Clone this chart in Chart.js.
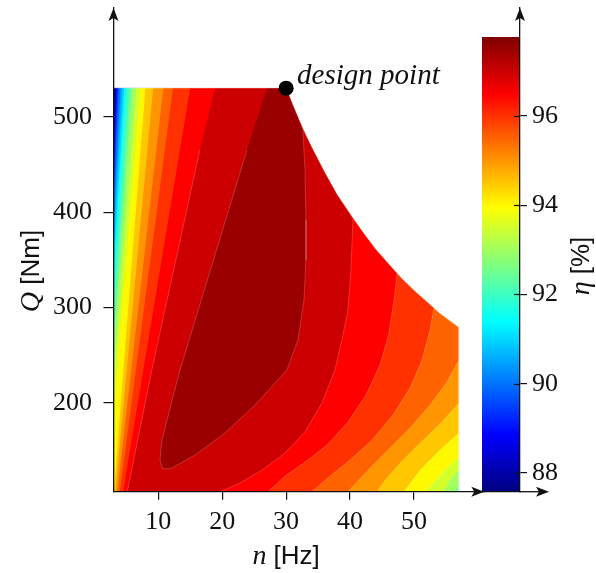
<!DOCTYPE html>
<html>
<head>
<meta charset="utf-8">
<script src="https://cdn.jsdelivr.net/npm/chart.js@4.4.1/dist/chart.umd.min.js"></script>
<style>
html,body{margin:0;padding:0;background:#fff;}
#wrap{position:relative;width:596px;height:573px;}
#wrap canvas{position:absolute;left:0;top:0;}
</style>
</head>
<body>
<div id="wrap">
<canvas id="main" width="596" height="573"></canvas>
<canvas id="cbar" width="596" height="573"></canvas>
</div>
<script>
// ---------------- data ----------------
const nTicks = [10, 20, 30, 40, 50];
const qTicks = [200, 300, 400, 500];
const etaTicks = [88, 90, 92, 94, 96];
const nRange = [3, 57];
const qRange = [107, 530];
const etaRange = [87.58, 97.76];
// constant-power limit (upper right boundary of the map)
const limitN = [30, 31, 32, 33, 34, 36, 38, 40, 42, 44, 46, 48, 50, 52, 54, 56, 57];
const limitQ = [530, 513, 497, 482, 468, 442, 418, 398, 379, 361, 346, 331, 318, 306, 294, 284, 279];
const designPoint = [30, 530];
// contour levels (%)
const levels = [88, 88.5, 89, 89.5, 90, 90.5, 91, 91.5, 92, 92.5, 93, 93.5, 94, 94.5, 95, 95.5, 96, 96.5, 97];
// low-speed side of each contour: [n, Q] from where it leaves the map edge up to the top edge
const leftContours = [
  [[3, 506], [3.15, 530]],
  [[3, 483], [3.3, 530]],
  [[3, 459], [3.45, 530]],
  [[3, 435], [3.6, 530]],
  [[3, 410], [3.8, 530]],
  [[3, 386], [4.1, 530]],
  [[3, 361], [4.4, 530]],
  [[3, 336], [4.7, 530]],
  [[3, 311], [5.0, 530]],
  [[3, 283], [5.5, 530]],
  [[3, 255], [5.9, 530]],
  [[3, 225], [6.6, 530]],
  [[3, 191], [7.2, 530]],
  [[3.05, 107], [8.0, 530]],
  [[3.3, 107], [9.2, 530]],
  [[3.6, 107], [10.8, 530]],
  [[4.0, 107], [12.3, 530]],
  [[4.5, 107], [15.0, 530]],
  [[5.16, 107], [9.0, 234.5], [16.5, 465], [18.9, 530]]
];
// high-speed side of contours: [n, Q] from the upper/right boundary down to the bottom edge
const rightLevels = [93, 93.5, 94, 94.5, 95, 95.5, 96, 96.5, 97];
const rightContours = [
  [[57, 113.9], [56.25, 107]],
  [[57, 129.6], [55.63, 119.1], [54.69, 107]],
  [[57, 143.2], [54.85, 129.6], [52.82, 114.9], [51.88, 107]],
  [[57, 168.4], [54.07, 150.6], [50.94, 129.6], [48.44, 107]],
  [[57, 199.9], [54.38, 180.0], [50.94, 157.9], [47.81, 136.9], [45.46, 119.1], [44.21, 107]],
  [[57, 244.9], [55.16, 221.9], [52.5, 197.8], [49.38, 173.7], [45.93, 150.6], [42.8, 129.6], [39.67, 107]],
  [[53.13, 299.3], [52.5, 276.4], [51.26, 244.9], [49.38, 215.6], [46.71, 187.3], [43.43, 161.0], [39.98, 140.1], [36.86, 123.3], [34.04, 107]],
  [[47.34, 336], [46.87, 307.9], [46.09, 273.2], [44.68, 239.7], [42.49, 208.3], [39.67, 180.0], [36.39, 155.8], [32.95, 138.0], [29.81, 123.3], [27.16, 107]],
  [[40.46, 393], [40.14, 339.3], [39.67, 297.4], [38.89, 271.1], [37.63, 234.4], [35.61, 199.9], [32.95, 169.5], [29.81, 147.5], [26.22, 129.6], [22.78, 116.0], [19.65, 107]]
];
// closed top-efficiency island (97.5 %)
const islandLevel = 97.5;
const islandTopLeft = [27.0, 530];
const islandContour = [
  [32.6, 487], [32.95, 444], [33.1, 392], [33.1, 350], [32.8, 308], [31.85, 266], [30.13, 234.5],
  [25.13, 197.8], [20.43, 168.4], [15.74, 145.4], [12.14, 131.8], [10.74, 130.7], [10.27, 140.1],
  [10.58, 161.1], [11.37, 182.0], [13.4, 234.5], [23.87, 465.1]
];

// ---------------- colour map (pgfplots jet) ----------------
const jetStops = [[0, 0, 0, 128], [0.125, 0, 0, 255], [0.375, 0, 255, 255], [0.625, 255, 255, 0], [0.875, 255, 0, 0], [1, 128, 0, 0]];
function jet(v) {
  v = Math.max(0, Math.min(1, v));
  for (let i = 1; i < jetStops.length; i++) {
    if (v <= jetStops[i][0]) {
      const a = jetStops[i - 1], b = jetStops[i];
      const t = (v - a[0]) / (b[0] - a[0]);
      const c = [1, 2, 3].map(k => Math.round(a[k] + (b[k] - a[k]) * t));
      return 'rgb(' + c.join(',') + ')';
    }
  }
  return 'rgb(128,0,0)';
}
const levelColor = L => jet((L - etaRange[0]) / (etaRange[1] - etaRange[0]));

// ---------------- polygons built from the contour arrays ----------------
function domainPolygon() {
  const pts = [[nRange[0], qRange[1]]];
  limitN.forEach((n, k) => pts.push([n, limitQ[k]]));
  pts.push([nRange[1], qRange[0]]);
  pts.push([nRange[0], qRange[0]]);
  return pts;
}
function regionPolygon(i) {
  const left = leftContours[i];
  const ri = rightLevels.indexOf(levels[i]);
  const right = ri >= 0 ? rightContours[ri] : null;
  const top = left[left.length - 1];
  const pts = [top];
  const onEdge = !right || right[0][0] >= nRange[1] - 0.01;
  limitN.forEach((n, k) => {
    if (onEdge || n < right[0][0] - 0.05) pts.push([n, limitQ[k]]);
  });
  if (right) right.forEach(p => pts.push(p));
  else pts.push([nRange[1], qRange[0]]);
  if (left[0][0] <= nRange[0] + 0.01) pts.push([nRange[0], qRange[0]]);
  for (let k = 0; k < left.length - 1; k++) pts.push(left[k]);
  return pts;
}
function islandPolygon() {
  const pts = [islandTopLeft];
  limitN.forEach((n, k) => { if (n < islandContour[0][0] - 0.05) pts.push([n, limitQ[k]]); });
  islandContour.forEach(p => pts.push(p));
  return pts;
}
function polyDataset(pts, color, order, seam) {
  return {
    data: pts.map(p => ({x: p[0], y: p[1]})),
    showLine: true, fill: 'shape', tension: 0,
    backgroundColor: color,
    borderColor: seam ? 'rgba(255,255,255,0.28)' : color,
    borderWidth: seam ? 0.7 : 0.5,
    pointRadius: 0, pointHoverRadius: 0, order: order
  };
}

const datasets = [];
datasets.push(polyDataset(domainPolygon(), levelColor(etaRange[0]), 300, false));
levels.forEach((L, i) => datasets.push(polyDataset(regionPolygon(i), levelColor(L), 200 - i, true)));
datasets.push(polyDataset(islandPolygon(), levelColor(islandLevel), 100, true));
datasets.push({
  data: [{x: designPoint[0], y: designPoint[1]}], showLine: false,
  pointRadius: 7.5, pointHoverRadius: 7.5, backgroundColor: '#000', borderWidth: 0, order: 0
});

// ---------------- helpers ----------------
const SERIF = '"Liberation Serif", "Times New Roman", serif';
const SANS = '"Liberation Sans", Arial, sans-serif';
const INK = '#111';
function arrowHead(ctx, x, y, dir) {
  ctx.save();
  ctx.translate(x, y);
  if (dir === 'right') ctx.rotate(Math.PI / 2);
  ctx.beginPath();
  ctx.moveTo(0, 0);
  ctx.lineTo(-5, 13);
  ctx.lineTo(0, 10);
  ctx.lineTo(5, 13);
  ctx.closePath();
  ctx.fillStyle = INK;
  ctx.fill();
  ctx.restore();
}
function drawParts(ctx, parts, x, y) {
  let w = 0;
  parts.forEach(p => { ctx.font = p.f; p.w = ctx.measureText(p.t).width; w += p.w; });
  let cx = x - w / 2;
  ctx.textAlign = 'left';
  ctx.textBaseline = 'alphabetic';
  parts.forEach(p => { ctx.font = p.f; ctx.fillText(p.t, cx, y); cx += p.w; });
}

const mainDeco = {
  id: 'mainDeco',
  afterDraw(chart) {
    const {ctx, chartArea: a, scales: {x, y}} = chart;
    ctx.save();
    ctx.fillStyle = INK;
    arrowHead(ctx, a.left, a.top, 'up');
    arrowHead(ctx, a.right, a.bottom, 'right');
    // x title
    drawParts(ctx, [{t: 'n', f: 'italic 28px ' + SERIF}, {t: ' [Hz]', f: '26px ' + SANS}], x.getPixelForValue(30), 564);
    // y title
    ctx.save();
    ctx.translate(39, 271);
    ctx.rotate(-Math.PI / 2);
    drawParts(ctx, [{t: 'Q', f: 'italic 28px ' + SERIF}, {t: ' [Nm]', f: '26px ' + SANS}], 0, 0);
    ctx.restore();
    // design point label
    ctx.font = 'italic 29px ' + SERIF;
    ctx.textAlign = 'left';
    ctx.textBaseline = 'alphabetic';
    ctx.fillText('design point', x.getPixelForValue(designPoint[0]) + 11, y.getPixelForValue(designPoint[1]) - 4);
    ctx.restore();
  }
};

const tickFont = {family: SERIF, size: 26};

new Chart(document.getElementById('main'), {
  type: 'scatter',
  data: {datasets: datasets},
  options: {
    responsive: false, animation: false, devicePixelRatio: 1,
    layout: {padding: {left: 0, right: 111.7, top: 8, bottom: 0}},
    plugins: {legend: {display: false}, tooltip: {enabled: false}},
    events: [],
    scales: {
      x: {
        type: 'linear', min: nRange[0], max: 61,
        afterBuildTicks: s => { s.ticks = nTicks.map(v => ({value: v})); },
        afterFit: s => { s.height = 81.3; s.paddingLeft = 0; s.paddingRight = 0; },
        grid: {drawOnChartArea: false, drawTicks: true, tickLength: 8, color: INK, lineWidth: 1.2, z: 1},
        border: {display: true, color: INK, width: 1.3, z: 1},
        ticks: {font: tickFont, color: INK, padding: 7, maxRotation: 0, autoSkip: false}
      },
      y: {
        type: 'linear', min: qRange[0], max: 614,
        afterBuildTicks: s => { s.ticks = qTicks.map(v => ({value: v})); },
        afterFit: s => { s.width = 113.5; s.paddingTop = 0; s.paddingBottom = 0; },
        grid: {drawOnChartArea: false, drawTicks: true, tickLength: 10, color: INK, lineWidth: 1.2, z: 1},
        border: {display: true, color: INK, width: 1.3, z: 1},
        ticks: {font: tickFont, color: INK, padding: 11.5, autoSkip: false}
      }
    }
  },
  plugins: [mainDeco]
});

// ---------------- colour bar ----------------
const cbarDeco = {
  id: 'cbarDeco',
  afterDraw(chart) {
    const {ctx, chartArea: a, scales: {y}} = chart;
    ctx.save();
    ctx.strokeStyle = INK;
    ctx.lineWidth = 1.2;
    etaTicks.forEach(v => {
      const py = Math.round(y.getPixelForValue(v)) + 0.5;
      ctx.beginPath(); ctx.moveTo(a.right - 6, py); ctx.lineTo(a.right, py); ctx.stroke();
    });
    ctx.lineWidth = 1.3;
    ctx.beginPath(); ctx.moveTo(a.right, a.bottom); ctx.lineTo(a.right + 26, a.bottom); ctx.stroke();
    arrowHead(ctx, a.right, a.top, 'up');
    arrowHead(ctx, a.right + 29, a.bottom, 'right');
    ctx.fillStyle = INK;
    ctx.save();
    ctx.translate(589, 266);
    ctx.rotate(-Math.PI / 2);
    drawParts(ctx, [{t: 'η', f: 'italic 28px ' + SERIF}, {t: ' [%]', f: '26px ' + SANS}], 0, 0);
    ctx.restore();
    ctx.restore();
  }
};

function barGradient(c) {
  const ch = c.chart;
  if (!ch.chartArea) return 'rgb(128,0,0)';
  const ys = ch.scales.y;
  const g = ch.ctx.createLinearGradient(0, ys.getPixelForValue(etaRange[0]), 0, ys.getPixelForValue(etaRange[1]));
  jetStops.forEach(s => g.addColorStop(s[0], 'rgb(' + s[1] + ',' + s[2] + ',' + s[3] + ')'));
  return g;
}

new Chart(document.getElementById('cbar'), {
  type: 'bar',
  data: {
    labels: ['η'],
    datasets: [{data: [etaRange], backgroundColor: barGradient, borderWidth: 0, barPercentage: 1, categoryPercentage: 1}]
  },
  options: {
    responsive: false, animation: false, devicePixelRatio: 1,
    layout: {padding: {left: 482, right: 0, top: 8, bottom: 0}},
    plugins: {legend: {display: false}, tooltip: {enabled: false}},
    events: [],
    scales: {
      x: {
        type: 'category', offset: true,
        grid: {display: false},
        border: {display: true, color: INK, width: 1.3, z: 1},
        ticks: {display: false},
        afterFit: s => { s.height = 81.3; s.paddingLeft = 0; s.paddingRight = 0; }
      },
      y: {
        type: 'linear', position: 'right', min: etaRange[0], max: 98.42,
        afterBuildTicks: s => { s.ticks = etaTicks.map(v => ({value: v})); },
        afterFit: s => { s.width = 76; s.paddingTop = 0; s.paddingBottom = 0; },
        grid: {drawOnChartArea: false, drawTicks: true, tickLength: 7, color: INK, lineWidth: 1.2, z: 1},
        border: {display: true, color: INK, width: 1.3, z: 1},
        ticks: {font: tickFont, color: INK, padding: 5, autoSkip: false}
      }
    }
  },
  plugins: [cbarDeco]
});
</script>
</body>
</html>
